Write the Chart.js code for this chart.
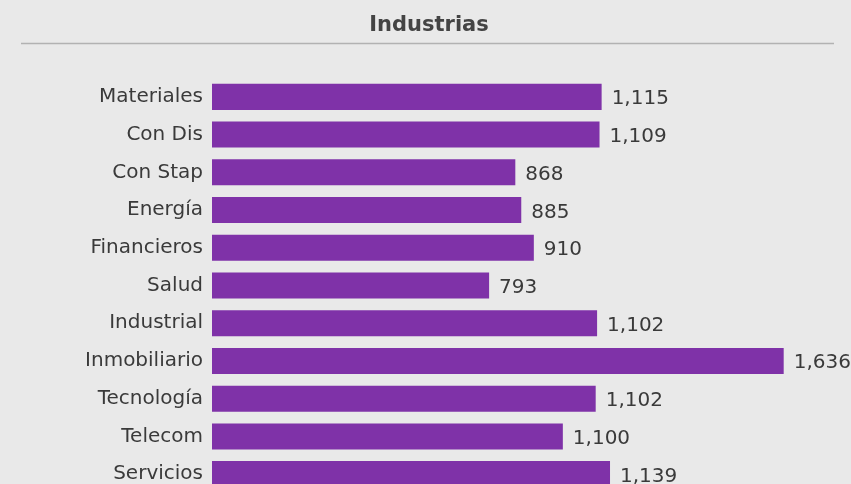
<!DOCTYPE html>
<html>
<head>
<meta charset="utf-8">
<script src="https://cdn.jsdelivr.net/npm/chart.js@4"></script>
<style>
  html, body { margin: 0; padding: 0; background: #e9e9e9; overflow: hidden; }
  #wrap { position: relative; width: 851px; height: 484px; overflow: hidden; }
  #chart { position: absolute; left: 0; top: 0; }
</style>
</head>
<body>
<div id="wrap">
  <canvas id="chart" width="851" height="515"></canvas>
</div>
<script>
var chartTitle = "Industrias";
var categories = ["Materiales", "Con Dis", "Con Stap", "Energía", "Financieros", "Salud",
  "Industrial", "Inmobiliario", "Tecnología", "Telecom", "Servicios"];
// bar lengths as drawn
var barValues = [1115, 1109, 868, 885, 921, 793, 1102, 1636, 1098, 1004, 1139];
// numbers printed beside the bars
var valueLabels = ["1,115", "1,109", "868", "885", "910", "793", "1,102", "1,636", "1,102", "1,100", "1,139"];
var xMax = 1800;

var labelFont = '"DejaVu Sans", sans-serif';
var textColor = "#3a3a3a";

// title + grey rule under it
var header = {
  id: "header",
  beforeDraw: function (chart) {
    var ctx = chart.ctx;
    ctx.save();
    ctx.font = "bold 21px " + labelFont;
    ctx.fillStyle = "#444";
    ctx.textAlign = "center";
    ctx.textBaseline = "alphabetic";
    ctx.fillText(chartTitle, 429, 31);
    ctx.strokeStyle = "#b2b2b2";
    ctx.lineWidth = 1.5;
    ctx.beginPath();
    ctx.moveTo(21, 43.5);
    ctx.lineTo(834, 43.5);
    ctx.stroke();
    ctx.restore();
  }
};

var barText = {
  id: "barText",
  afterDatasetsDraw: function (chart) {
    var ctx = chart.ctx;
    var meta = chart.getDatasetMeta(0);
    ctx.save();
    ctx.font = "20px " + labelFont;
    ctx.fillStyle = textColor;
    ctx.textBaseline = "alphabetic";
    ctx.textAlign = "left";
    meta.data.forEach(function (bar, i) {
      ctx.fillText(valueLabels[i], bar.x + 10, bar.y + 7.5);
    });
    ctx.restore();
  }
};

new Chart(document.getElementById("chart"), {
  type: "bar",
  data: {
    labels: categories,
    datasets: [{
      data: barValues,
      backgroundColor: "#7f32a8",
      borderWidth: 0,
      categoryPercentage: 1,
      barPercentage: 0.69
    }]
  },
  options: {
    indexAxis: "y",
    responsive: false,
    animation: false,
    layout: { padding: { left: 0, right: 10, top: 78, bottom: 22 } },
    plugins: { legend: { display: false }, tooltip: { enabled: false } },
    scales: {
      x: { display: false, min: 0, max: xMax },
      y: {
        grid: { display: false, drawTicks: false },
        border: { display: false },
        ticks: { color: textColor, font: { family: labelFont, size: 20 }, padding: 9 },
        afterFit: function (s) { s.width = 212; }
      }
    }
  },
  plugins: [header, barText]
});
</script>
</body>
</html>
